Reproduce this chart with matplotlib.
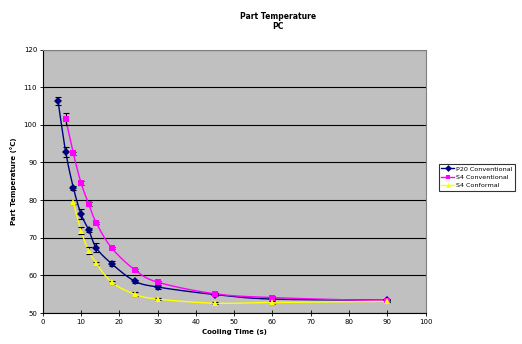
import numpy as np
import matplotlib
matplotlib.use('Agg')
import matplotlib.pyplot as plt

# cooling time (s) and part temperature (C)
p20_time = [4, 6, 8, 10, 12, 14, 18, 24, 30, 45, 60, 90]
p20_temp = [106.3, 92.8, 83.3, 76.3, 72.1, 67.3, 63.1, 58.5, 56.9, 54.9, 53.7, 53.4]
p20_err = [1.0, 1.4, 0.5, 1.3, 0.5, 1.2, 0.6, 0.4, 0.5, 0.4, 0.3, 0.3]

s4conv_time = [6, 8, 10, 12, 14, 18, 24, 30, 45, 60, 90]
s4conv_temp = [101.5, 92.4, 84.6, 79.0, 73.9, 67.3, 61.5, 58.2, 55.1, 54.1, 53.2]
s4conv_err = [1.5, 0.5, 0.5, 0.6, 0.3, 0.3, 0.3, 0.3, 0.3, 0.3, 0.3]

s4conf_time = [8, 10, 12, 14, 18, 24, 30, 45, 60, 90]
s4conf_temp = [79.4, 71.9, 66.6, 63.2, 58.2, 55.0, 53.7, 52.6, 52.8, 53.1]
s4conf_err = [0.5, 0.9, 0.9, 0.4, 0.4, 0.5, 0.3, 0.3, 0.3, 0.3]

series_names = ['P20 Conventional', 'S4 Conventional', 'S4 Conformal']
colors = ['#000080', '#FF00FF', '#FFFF00']
markers = ['D', 's', '^']


def smooth(x, y, n=20):
    # catmull-rom style smoothing like excel's smoothed line
    x = np.asarray(x, float)
    y = np.asarray(y, float)
    px = np.concatenate([[2 * x[0] - x[1]], x, [2 * x[-1] - x[-2]]])
    py = np.concatenate([[2 * y[0] - y[1]], y, [2 * y[-1] - y[-2]]])
    xs, ys = [], []
    t = np.linspace(0, 1, n)
    for i in range(1, len(px) - 2):
        for arr, out in ((px, xs), (py, ys)):
            p0, p1, p2, p3 = arr[i - 1], arr[i], arr[i + 1], arr[i + 2]
            m1 = (p2 - p0) / 6.0
            m2 = (p3 - p1) / 6.0
            c1 = p1 + m1
            c2 = p2 - m2
            out.extend((1 - t) ** 3 * p1 + 3 * (1 - t) ** 2 * t * c1
                       + 3 * (1 - t) * t ** 2 * c2 + t ** 3 * p2)
    return xs, ys


fig = plt.figure(figsize=(5.22, 3.44), dpi=100)
ax = fig.add_axes([0.0818, 0.0901, 0.7337, 0.766])
ax.set_facecolor('#C0C0C0')

data = [(p20_time, p20_temp, p20_err), (s4conv_time, s4conv_temp, s4conv_err),
        (s4conf_time, s4conf_temp, s4conf_err)]
handles = []
for (t, temp, err), name, c, m in zip(data, series_names, colors, markers):
    sx, sy = smooth(t, temp)
    ax.plot(sx, sy, color=c, lw=1, zorder=3)
    ax.errorbar(t, temp, yerr=err, fmt='none', ecolor='black', elinewidth=0.8,
                capsize=2, capthick=0.8, zorder=4)
    ax.plot(t, temp, linestyle='none', marker=m, color=c, markersize=4,
            markeredgewidth=0, zorder=5)
    h, = ax.plot([], [], color=c, lw=1, marker=m, markersize=3.5, markeredgewidth=0)
    handles.append(h)

ax.set_xlim(0, 100)
ax.set_ylim(50, 120)
ax.set_xticks(range(0, 101, 10))
ax.set_yticks(range(50, 121, 10))
ax.yaxis.grid(True, color='black', lw=0.8)
ax.set_axisbelow(True)
ax.tick_params(labelsize=5, direction='inout', length=4, width=0.6, pad=2)
for s in ['left', 'bottom']:
    ax.spines[s].set_color('black')
    ax.spines[s].set_linewidth(0.8)
for s in ['top', 'right']:
    ax.spines[s].set_color('#808080')
    ax.spines[s].set_linewidth(0.8)

ax.set_xlabel('Cooling Time (s)', fontsize=5, fontweight='bold', labelpad=3)
ax.set_ylabel('Part Temperature (°C)', fontsize=5, fontweight='bold', labelpad=5)
fig.text(0.532, 0.965, 'Part Temperature\nPC', ha='center', va='top',
         fontsize=5.5, fontweight='bold', linespacing=1.1)

leg = fig.legend(handles, series_names, loc='upper left',
                 bbox_to_anchor=(439 / 522, 1 - 164 / 344), fontsize=4.6,
                 frameon=True, fancybox=False, edgecolor='black',
                 handlelength=2.0, borderpad=0.35, labelspacing=0.45,
                 handletextpad=0.3, borderaxespad=0)
leg.get_frame().set_linewidth(0.8)

plt.savefig('out.png', dpi=100)
